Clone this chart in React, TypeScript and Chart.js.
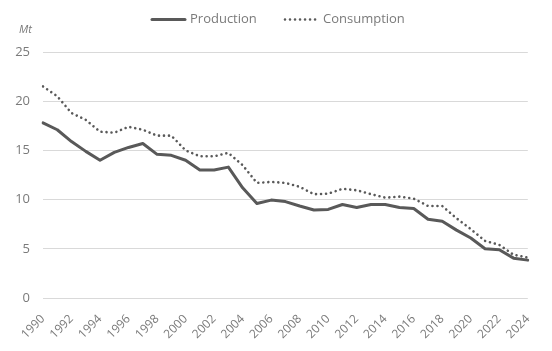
import React, { useEffect, useRef } from "react";
import { Chart, registerables } from "chart.js";

Chart.register(...registerables);

const years: string[] = [
  "1990","1991","1992","1993","1994","1995","1996","1997","1998","1999",
  "2000","2001","2002","2003","2004","2005","2006","2007","2008","2009",
  "2010","2011","2012","2013","2014","2015","2016","2017","2018","2019",
  "2020","2021","2022","2023","2024",
];

const production: number[] = [
  17.8, 17.1, 15.9, 14.9, 14.0, 14.8, 15.3, 15.7, 14.6, 14.5,
  14.0, 13.0, 13.0, 13.3, 11.2, 9.6, 9.95, 9.8, 9.35, 8.95,
  9.0, 9.5, 9.2, 9.5, 9.5, 9.2, 9.1, 8.0, 7.8, 6.9,
  6.1, 5.0, 4.9, 4.05, 3.85,
];

const consumption: number[] = [
  21.5, 20.5, 18.8, 18.1, 16.9, 16.8, 17.4, 17.1, 16.5, 16.5,
  15.0, 14.4, 14.4, 14.75, 13.5, 11.7, 11.8, 11.7, 11.3, 10.55,
  10.6, 11.1, 10.95, 10.55, 10.2, 10.3, 10.1, 9.35, 9.35, 8.1,
  7.0, 5.8, 5.4, 4.4, 4.1,
];

const yTicks: number[] = [0, 5, 10, 15, 20, 25];
const seriesNames: string[] = ["Production", "Consumption"];
const unitLabel = "Mt";

const LINE_COLOR = "#595959";
const TEXT_COLOR = "#7a7a7a";
const FONT = "'Open Sans', 'Noto Sans', sans-serif";

const legendPlugin = {
  id: "customLegend",
  afterDraw(chart: any) {
    const ctx = chart.ctx as CanvasRenderingContext2D;
    ctx.save();
    ctx.font = `italic 11px ${FONT}`;
    ctx.fillStyle = TEXT_COLOR;
    ctx.textAlign = "left";
    ctx.textBaseline = "middle";
    ctx.fillText(unitLabel, 19, 30);

    const y = 19.5;
    ctx.font = `13px ${FONT}`;
    ctx.fillStyle = TEXT_COLOR;
    ctx.strokeStyle = LINE_COLOR;
    ctx.lineWidth = 3;
    ctx.lineCap = "round";
    ctx.setLineDash([]);
    ctx.beginPath();
    ctx.moveTo(152, y);
    ctx.lineTo(185, y);
    ctx.stroke();
    ctx.fillText(seriesNames[0], 190, y);
    ctx.lineWidth = 2.6;
    ctx.setLineDash([0.01, 5]);
    ctx.beginPath();
    ctx.moveTo(285, y);
    ctx.lineTo(318, y);
    ctx.stroke();
    ctx.setLineDash([]);
    ctx.fillText(seriesNames[1], 323, y);
    ctx.restore();
  },
};

export default function App() {
  const ref = useRef<HTMLCanvasElement | null>(null);

  useEffect(() => {
    document.body.style.margin = "0";
    const canvas = ref.current;
    if (!canvas) return;
    const chart = new Chart(canvas, {
      type: "line",
      data: {
        labels: years,
        datasets: [
          {
            label: seriesNames[0],
            data: production,
            borderColor: LINE_COLOR,
            backgroundColor: LINE_COLOR,
            borderWidth: 3,
            pointRadius: 0,
            tension: 0,
            borderJoinStyle: "round",
            borderCapStyle: "round",
          },
          {
            label: seriesNames[1],
            data: consumption,
            borderColor: LINE_COLOR,
            backgroundColor: LINE_COLOR,
            borderWidth: 2.6,
            borderDash: [0.01, 5],
            borderCapStyle: "round",
            borderJoinStyle: "round",
            pointRadius: 0,
            tension: 0,
          },
        ],
      },
      options: {
        animation: false,
        responsive: false,
        maintainAspectRatio: false,
        layout: { padding: { top: 52, right: 24, left: 0, bottom: 0 } },
        plugins: {
          legend: { display: false },
          tooltip: { enabled: false },
        },
        scales: {
          x: {
            type: "category",
            offset: false,
            grid: { display: false, drawTicks: false },
            border: { display: false },
            ticks: {
              autoSkip: false,
              maxRotation: 45,
              minRotation: 45,
              padding: 14,
              color: TEXT_COLOR,
              font: { family: FONT, size: 12 },
              callback: function (_v: any, i: number) {
                return i % 2 === 0 ? years[i] : "";
              },
            },
            afterFit(scale: any) {
              scale.height = 53;
            },
          },
          y: {
            min: 0,
            max: 25,
            afterBuildTicks(scale: any) {
              scale.ticks = yTicks.map((v) => ({ value: v }));
            },
            grid: { color: "#d9d9d9", lineWidth: 1, drawTicks: false },
            border: { display: false },
            ticks: {
              padding: 13,
              color: TEXT_COLOR,
              font: { family: FONT, size: 13 },
            },
            afterFit(scale: any) {
              scale.width = 43;
            },
          },
        },
      },
      plugins: [legendPlugin],
    });
    return () => chart.destroy();
  }, []);

  return (
    <div style={{ position: "absolute", left: 0, top: 0, width: 552, height: 351 }}>
      <canvas ref={ref} width={552} height={351} style={{ width: 552, height: 351 }} />
    </div>
  );
}
